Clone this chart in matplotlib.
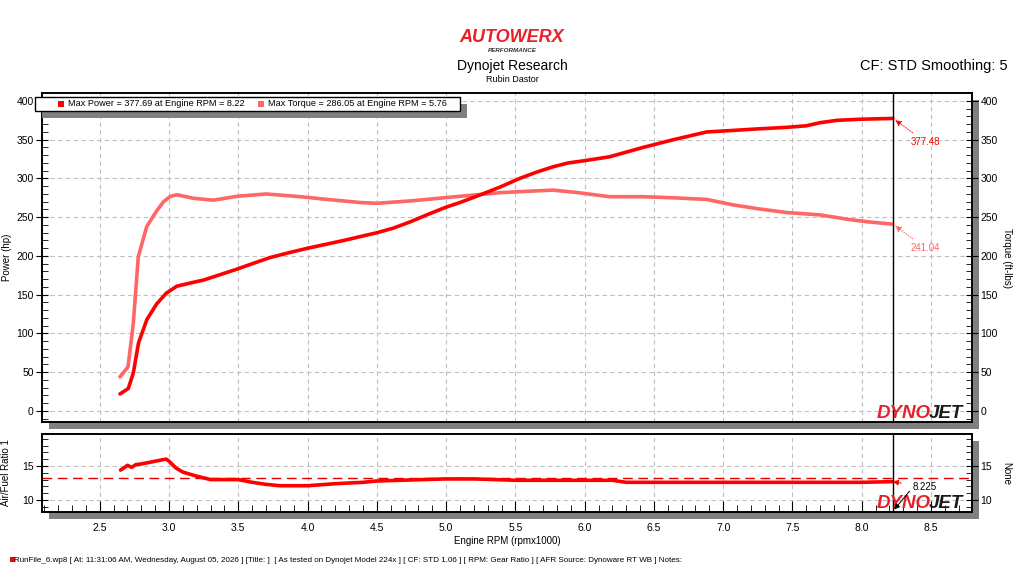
import matplotlib
matplotlib.use("Agg")
import matplotlib.pyplot as plt
from matplotlib.patches import Rectangle
from matplotlib.ticker import MultipleLocator
import numpy as np

plt.rcParams['font.family'] = ['Liberation Sans', 'DejaVu Sans']

# ---- data (Engine RPM x1000) ----
power_rpm = [2.646, 2.706, 2.742, 2.78, 2.84, 2.91, 2.98, 3.056, 3.15, 3.25, 3.37, 3.49, 3.6,
             3.73, 3.86, 4.0, 4.13, 4.26, 4.38, 4.5, 4.62, 4.74, 4.86, 5.0, 5.1, 5.22, 5.39, 5.53,
             5.65, 5.77, 5.88, 6.0, 6.18, 6.3, 6.42, 6.53, 6.64, 6.76, 6.88, 7.07, 7.25, 7.46,
             7.6, 7.70, 7.82, 8.0, 8.225]
power_hp = [22, 29, 49, 88, 118, 138, 152, 161, 165, 169, 176, 183, 190,
            198, 204, 210, 215, 220, 225, 230, 236, 244, 253, 263, 269, 277, 289, 300,
            308, 315, 320, 323, 328, 334, 340, 345, 350, 355, 360, 362, 364, 366,
            368, 372, 375, 376.5, 377.48]

torque_rpm = [2.646, 2.704, 2.742, 2.778, 2.839, 2.91, 2.96, 3.01, 3.056, 3.175, 3.32, 3.49, 3.70,
              3.95, 4.14, 4.38, 4.5, 4.74, 4.98, 5.22, 5.39, 5.53, 5.77, 5.94, 6.18, 6.42,
              6.65, 6.88, 7.07, 7.25, 7.46, 7.70, 7.91, 8.05, 8.225]
torque_ftlb = [44, 57, 113, 199, 238, 258, 270, 277, 279, 274.5, 272, 277, 280,
               276.5, 273, 269, 268, 271, 275, 279, 281.7, 283, 285, 282, 276.5, 276.5,
               275, 273, 266, 261, 256, 253, 247, 244, 241.04]

afr_rpm = [2.65, 2.68, 2.70, 2.73, 2.76, 2.80, 2.85, 2.9, 2.95, 2.98, 3.0, 3.05, 3.1, 3.2, 3.3,
           3.5, 3.6, 3.7, 3.8, 4.0, 4.2, 4.4, 4.5, 5.0, 5.2, 5.5, 6.0, 6.2, 6.3, 7.0, 7.5,
           8.0, 8.225]
afr = [14.4, 14.8, 15.1, 14.8, 15.2, 15.3, 15.5, 15.7, 15.9, 16.0, 15.7, 14.7, 14.1, 13.5, 13.0,
       13.0, 12.6, 12.3, 12.1, 12.1, 12.4, 12.6, 12.8, 13.1, 13.1, 12.9, 12.9, 12.9, 12.6, 12.6, 12.6,
       12.6, 12.7]

afr_target = 13.2
cursor_rpm = 8.225
legend_power = "Max Power = 377.69 at Engine RPM = 8.22"
legend_torque = "Max Torque = 286.05 at Engine RPM = 5.76"
footer = ("RunFile_6.wp8 [ At: 11:31:06 AM, Wednesday, August 05, 2026 ] [Title: ]  [ As tested on "
          "Dynojet Model 224x ] [ CF: STD 1.06 ] [ RPM: Gear Ratio ] [ AFR Source: Dynoware RT WB ] Notes:")

PCOL = '#ff0000'
TCOL = '#ff6666'
W, H = 1024, 576
TS = 7.5

fig = plt.figure(figsize=(W / 100, H / 100), dpi=100)

def fx(px):
    return px / W

def fy(py):
    return 1 - py / H

# shadows (behind axes)
fig.patches.append(Rectangle((fx(49), fy(429)), fx(930), (422 - 93) / H, transform=fig.transFigure,
                             facecolor='#808080', edgecolor='none', zorder=-5))
fig.patches.append(Rectangle((fx(49), fy(519)), fx(930), (512 - 434) / H, transform=fig.transFigure,
                             facecolor='#808080', edgecolor='none', zorder=-5))

ax = fig.add_axes([fx(42), fy(422), fx(930), (422 - 93) / H])
ax2 = fig.add_axes([fx(42), fy(512), fx(930), (512 - 434) / H])
for a in (ax, ax2):
    a.set_facecolor('white')
    a.set_xlim(2.083, 8.796)
    a.xaxis.set_major_locator(MultipleLocator(0.5))
    a.xaxis.set_minor_locator(MultipleLocator(0.1))
    a.grid(True, which='major', linestyle=(0, (4, 3)), color='#c0c0c0', linewidth=0.8)
    for s in a.spines.values():
        s.set_linewidth(1.2)
        s.set_color('black')
    a.set_axisbelow(True)

# top panel
ax.set_ylim(-14.2, 410.3)
ax.yaxis.set_major_locator(MultipleLocator(50))
ax.yaxis.set_minor_locator(MultipleLocator(10))
ax.tick_params(axis='x', which='both', bottom=False, labelbottom=False)
ax.tick_params(axis='y', which='major', direction='inout', length=8, labelsize=TS, pad=2)
ax.tick_params(axis='y', which='minor', direction='in', length=4)
ax.set_ylabel('Power (hp)', fontsize=7, labelpad=3)

axr = ax.twinx()
axr.set_ylim(-14.2, 410.3)
axr.yaxis.set_major_locator(MultipleLocator(50))
axr.yaxis.set_minor_locator(MultipleLocator(10))
axr.tick_params(axis='y', which='major', direction='inout', length=8, labelsize=TS, pad=2)
axr.tick_params(axis='y', which='minor', direction='in', length=4)
axr.set_ylabel('Torque (ft-lbs)', fontsize=7, rotation=-90, labelpad=10)
for s in axr.spines.values():
    s.set_linewidth(1.2)

ax.plot(torque_rpm, torque_ftlb, color=TCOL, linewidth=2.6, solid_capstyle='round',
        solid_joinstyle='round', zorder=3)
ax.plot(power_rpm, power_hp, color=PCOL, linewidth=2.6, solid_capstyle='round',
        solid_joinstyle='round', zorder=4)
ax.axvline(cursor_rpm, color='black', linewidth=1.0, zorder=5)

ax.annotate(f"{power_hp[-1]:.2f}", xy=(cursor_rpm, power_hp[-1]), xytext=(cursor_rpm + 0.13, 347),
            color=PCOL, fontsize=7, ha='left', va='center',
            arrowprops=dict(arrowstyle='-|>', color=PCOL, linewidth=0.7, linestyle=':', mutation_scale=9))
ax.annotate(f"{torque_ftlb[-1]:.2f}", xy=(cursor_rpm, torque_ftlb[-1]), xytext=(cursor_rpm + 0.13, 210),
            color=TCOL, fontsize=7, ha='left', va='center',
            arrowprops=dict(arrowstyle='-|>', color=TCOL, linewidth=0.7, linestyle=':', mutation_scale=9))

# dynojet logos
def dynojet(a):
    t = a.text(0.897, 0.0, 'DYNO', transform=a.transAxes, color='#e8202a', fontsize=13.5,
               fontweight='heavy', style='italic', ha='left', va='bottom', zorder=6)
    a.annotate('JET', xy=(0.98, 0.0), xycoords=t, color='#1a1a1a', fontsize=13.5,
               fontweight='heavy', style='italic', ha='left', va='bottom', zorder=6)

dynojet(ax)

# legend box
fig.patches.append(Rectangle((fx(42), fy(118)), fx(425), 14 / H, transform=fig.transFigure,
                             facecolor='#808080', edgecolor='none', zorder=5))
fig.patches.append(Rectangle((fx(35), fy(111)), fx(425), 14 / H, transform=fig.transFigure,
                             facecolor='white', edgecolor='black', linewidth=1.0, zorder=6))
fig.patches.append(Rectangle((fx(58), fy(107)), fx(6), 6 / H, transform=fig.transFigure,
                             facecolor=PCOL, edgecolor='none', zorder=7))
fig.text(fx(68), fy(104), legend_power, fontsize=6.6, va='center', ha='left', zorder=7)
fig.patches.append(Rectangle((fx(258), fy(107)), fx(6), 6 / H, transform=fig.transFigure,
                             facecolor=TCOL, edgecolor='none', zorder=7))
fig.text(fx(268), fy(104), legend_torque, fontsize=6.6, va='center', ha='left', zorder=7)

# lower panel
ax2.set_ylim(8.24, 19.7)
ax2.yaxis.set_major_locator(MultipleLocator(5))
ax2.yaxis.set_minor_locator(MultipleLocator(1))
ax2.tick_params(axis='x', which='major', direction='in', length=8, labelsize=TS, pad=8)
ax2.tick_params(axis='x', which='minor', direction='in', length=5)
ax2.tick_params(axis='y', which='major', direction='inout', length=8, labelsize=TS, pad=2)
ax2.tick_params(axis='y', which='minor', direction='in', length=4)
ax2.set_ylabel('Air/Fuel Ratio 1', fontsize=7, labelpad=8)
ax2.set_xlabel('Engine RPM (rpmx1000)', fontsize=7, labelpad=2)

ax2r = ax2.twinx()
ax2r.set_ylim(8.24, 19.7)
ax2r.yaxis.set_major_locator(MultipleLocator(5))
ax2r.yaxis.set_minor_locator(MultipleLocator(1))
ax2r.tick_params(axis='y', which='major', direction='inout', length=8, labelsize=TS, pad=2)
ax2r.tick_params(axis='y', which='minor', direction='in', length=4)
ax2r.set_ylabel('None', fontsize=7, rotation=-90, labelpad=14)
for s in ax2r.spines.values():
    s.set_linewidth(1.2)

ax2.axhline(afr_target, color='#e00000', linewidth=1.0, linestyle=(0, (7, 4)), zorder=3)
ax2.plot(afr_rpm, afr, color=PCOL, linewidth=2.6, solid_capstyle='round', solid_joinstyle='round',
         zorder=4)
ax2.axvline(cursor_rpm, color='black', linewidth=1.0, zorder=5)
dynojet(ax2)
ax2.annotate(f"{cursor_rpm:.3f}", xy=(cursor_rpm, afr[-1]), xytext=(cursor_rpm + 0.14, 11.9),
             color='black', fontsize=7, ha='left', va='center', zorder=8,
             arrowprops=dict(arrowstyle='-|>', color=PCOL, linewidth=0.7, mutation_scale=8,
                             shrinkA=6, shrinkB=0))
ax2.annotate("", xy=(cursor_rpm + 0.01, 8.6), xytext=(cursor_rpm + 0.12, 11.3), zorder=8,
             arrowprops=dict(arrowstyle='-|>', color='black', linewidth=0.7, mutation_scale=8,
                             shrinkA=0, shrinkB=0))

# header
fig.text(0.5, fy(38), 'AUTOWERX', fontsize=13, fontweight='bold', style='italic', color='#e8202a',
         ha='center', va='center')
fig.text(0.5, fy(50), 'PERFORMANCE', fontsize=4.5, fontweight='bold', style='italic', color='#333333',
         ha='center', va='center')
fig.text(0.5, fy(66), 'Dynojet Research', fontsize=10, ha='center', va='center')
fig.text(0.5, fy(80), 'Rubin Dastor', fontsize=6.5, ha='center', va='center')
fig.text(fx(1008), fy(66), 'CF: STD Smoothing: 5', fontsize=10.5, ha='right', va='center')

# footer
fig.patches.append(Rectangle((fx(10), fy(562)), fx(5), 5 / H, transform=fig.transFigure,
                             facecolor='#ff0000', edgecolor='none'))
fig.text(fx(14), fy(561), footer, fontsize=5.8, ha='left', va='center')

fig.savefig('out.png', dpi=100)
